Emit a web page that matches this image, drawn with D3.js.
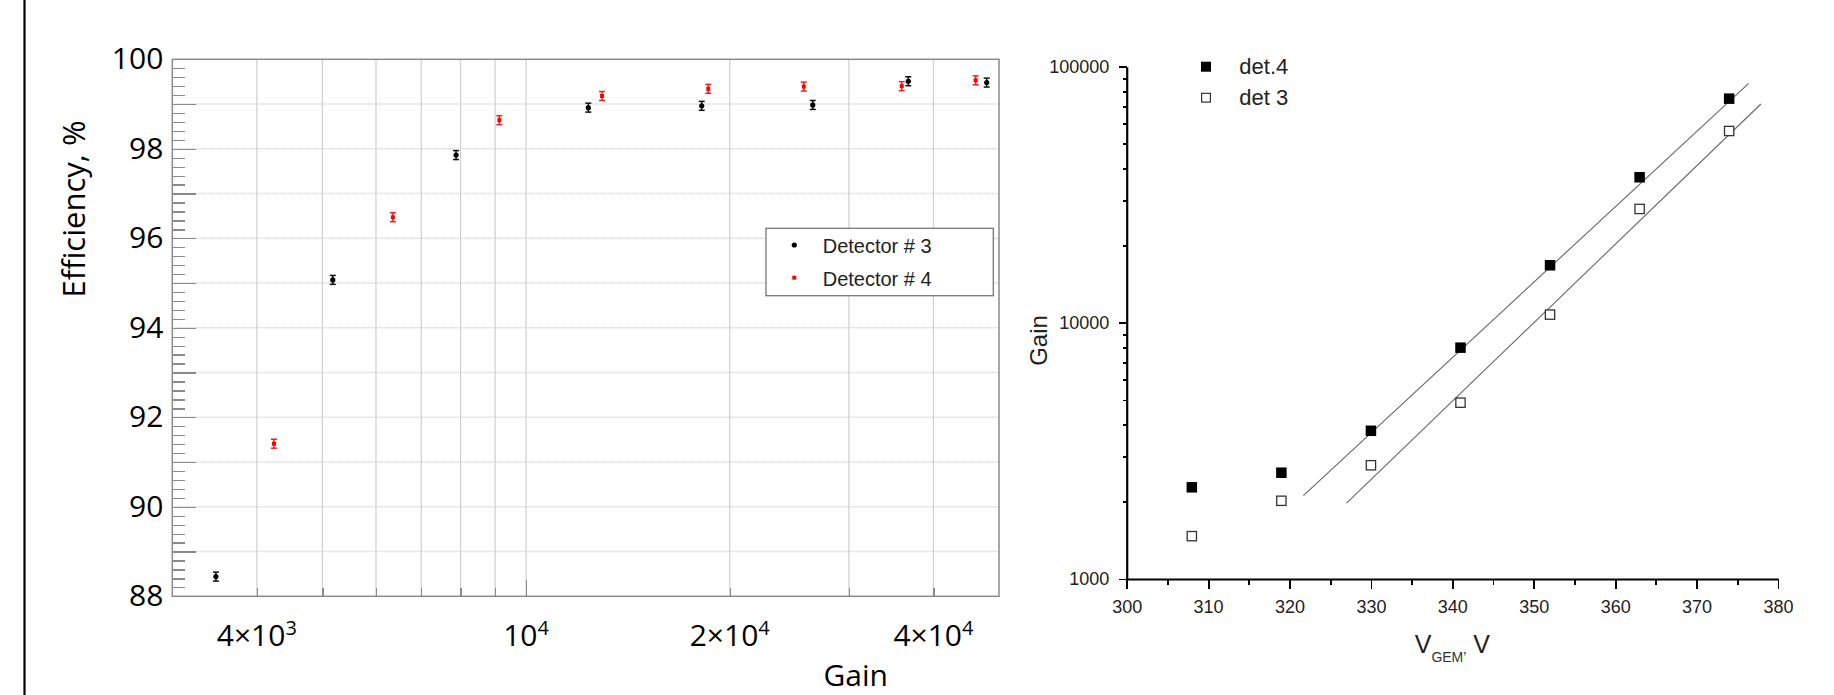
<!DOCTYPE html>
<html lang="en">
<head>
<meta charset="UTF-8">
<title>Detector efficiency and gain</title>
<script src="https://cdn.jsdelivr.net/npm/d3@7"></script>
<style>
  body { margin: 0; background: #fff; }
  svg { display: block; }
  .tick line { shape-rendering: crispEdges; }
</style>
</head>
<body>
<div id="chart"></div>
<script>
// ---- left panel: efficiency vs gain (log x) ----
const det3Gain = [3480, 5180, 7880, 12360, 18180, 26530, 36720, 47950];
const det3Eff  = [88.44, 95.07, 97.86, 98.92, 98.96, 98.98, 99.51, 99.48];
const det3Err  = [0.1, 0.1, 0.1, 0.1, 0.1, 0.1, 0.1, 0.1];
const det4Gain = [4240, 6355, 9130, 12950, 18590, 25730, 35910, 46180];
const det4Eff  = [91.41, 96.47, 98.64, 99.18, 99.34, 99.39, 99.40, 99.53];
const det4Err  = [0.1, 0.1, 0.1, 0.1, 0.1, 0.1, 0.1, 0.1];

const effLabels   = [88, 90, 92, 94, 96, 98, 100];
const gainGrid    = [4000, 5000, 6000, 7000, 8000, 9000, 10000, 20000, 30000, 40000];
const gainLabVals = [4000, 10000, 20000, 40000];
const gainLabMant = ['4×10', '10', '2×10', '4×10'];
const gainLabExp  = ['3', '4', '4', '4'];
const legendLeft  = ['Detector # 3', 'Detector # 4'];

// ---- right panel: gain vs V_GEM (log y) ----
const vgem     = [308, 319, 330, 341, 352, 363, 374];
const gainDet4 = [2280, 2600, 3790, 8000, 16780, 37010, 75030];
const gainDet3 = [1470, 2020, 2780, 4880, 10770, 27840, 56110];
const fitDet4V = [321.7, 376.4];
const fitDet4G = [2116, 86130];
const fitDet3V = [327.0, 377.9];
const fitDet3G = [1977, 71510];
const vgemTicks = [300, 310, 320, 330, 340, 350, 360, 370, 380];
const gainTicks = [1000, 10000, 100000];
const legendRight = ['det.4', 'det 3'];

const W = 1834, H = 695;
const svg = d3.select('#chart').append('svg')
    .attr('width', W)
    .attr('height', H);

svg.append('rect').attr('width', W).attr('height', H).attr('fill', '#fff');

// black border line on the far left
svg.append('line')
    .attr('x1', 24.5).attr('x2', 24.5)
    .attr('y1', 0).attr('y2', H)
    .attr('stroke', '#000')
    .attr('stroke-width', 2.2);

// ================= LEFT =================
const xL = d3.scaleLog().domain([3000, 50000]).range([172.3, 999]);
const yL = d3.scaleLinear().domain([88, 100]).range([596.3, 59.3]);
const left = svg.append('g');
const gridCol = '#cfcfcf';

// vertical grid
left.selectAll('.vgrid')
    .data(gainGrid)
    .enter()
    .append('line')
    .attr('x1', d => xL(d)).attr('x2', d => xL(d))
    .attr('y1', yL(88)).attr('y2', yL(100))
    .attr('stroke', gridCol)
    .attr('stroke-width', 1.2);

// horizontal dotted grid
left.selectAll('.hgrid')
    .data(d3.range(89, 100))
    .enter()
    .append('line')
    .attr('x1', xL(3000)).attr('x2', xL(50000))
    .attr('y1', d => yL(d)).attr('y2', d => yL(d))
    .attr('stroke', gridCol)
    .attr('stroke-width', 1.4)
    .attr('stroke-dasharray', '1,1');

// y ticks (inside)
const yMinor = left.append('g')
    .attr('transform', `translate(${xL(3000)},0)`)
    .call(d3.axisLeft(yL).tickValues(d3.range(88, 100.01, 0.2)).tickSize(-12.5).tickFormat(''));
const yMajor = left.append('g')
    .attr('transform', `translate(${xL(3000)},0)`)
    .call(d3.axisLeft(yL).tickValues(d3.range(88, 101, 1)).tickSize(-24).tickPadding(9)
        .tickFormat(d => effLabels.includes(d) ? d : ''));
[yMinor, yMajor].forEach(g => {
    g.select('.domain').remove();
    g.selectAll('.tick line').attr('stroke', '#8a8a8a').attr('stroke-width', 1.3);
});
yMajor.selectAll('text')
    .attr('fill', '#000')
    .style('font-family', '"Open Sans", sans-serif')
    .style('font-size', '30px');

// x ticks (inside, pointing up)
const xTicks = left.append('g')
    .attr('transform', `translate(0,${yL(88)})`)
    .call(d3.axisBottom(xL).tickValues(gainGrid).tickSize(-8).tickFormat(''));
xTicks.select('.domain').remove();
xTicks.selectAll('.tick line')
    .attr('stroke', '#8a8a8a').attr('stroke-width', 1.3)
    .attr('y2', d => d === 10000 ? -16 : -8);

// frame
left.append('rect')
    .attr('x', xL(3000)).attr('y', yL(100))
    .attr('width', xL(50000) - xL(3000))
    .attr('height', yL(88) - yL(100))
    .attr('fill', 'none')
    .attr('stroke', '#8a8a8a')
    .attr('stroke-width', 1.5);

// x labels with superscripts
const xLab = left.selectAll('.xlab')
    .data(gainLabVals)
    .enter()
    .append('text')
    .attr('x', d => xL(d))
    .attr('y', 646)
    .attr('text-anchor', 'middle')
    .style('font-family', '"Open Sans", sans-serif')
    .style('font-size', '30px')
    .attr('fill', '#000');
xLab.append('tspan').text((d, i) => gainLabMant[i]);
xLab.append('tspan')
    .attr('dy', -11)
    .style('font-size', '20px')
    .text((d, i) => gainLabExp[i]);

// axis titles
left.append('text')
    .text('Efficiency, %')
    .attr('transform', 'translate(85,209) rotate(-90)')
    .attr('text-anchor', 'middle')
    .style('font-family', '"Open Sans", sans-serif')
    .style('font-size', '31px')
    .attr('fill', '#000');
left.append('text')
    .text('Gain')
    .attr('x', 888).attr('y', 686)
    .attr('text-anchor', 'end')
    .style('font-family', '"Open Sans", sans-serif')
    .style('font-size', '30px')
    .attr('fill', '#000');

// data with error bars
function errBars(g, gains, effs, errs, col) {
    const grp = g.append('g');
    gains.forEach((gv, i) => {
        const x = xL(gv), y1 = yL(effs[i] - errs[i]), y2 = yL(effs[i] + errs[i]);
        grp.append('line').attr('x1', x).attr('x2', x).attr('y1', y1).attr('y2', y2)
            .attr('stroke', col).attr('stroke-width', 1.5);
        [y1, y2].forEach(y => grp.append('line')
            .attr('x1', x - 3).attr('x2', x + 3).attr('y1', y).attr('y2', y)
            .attr('stroke', col).attr('stroke-width', 1.5));
    });
}
errBars(left, det3Gain, det3Eff, det3Err, '#111');
errBars(left, det4Gain, det4Eff, det4Err, '#ff1a1a');

left.selectAll('.d3pt')
    .data(det3Gain)
    .enter()
    .append('circle')
    .attr('cx', d => xL(d))
    .attr('cy', (d, i) => yL(det3Eff[i]))
    .attr('r', 2.6)
    .attr('fill', '#000');
left.selectAll('.d4pt')
    .data(det4Gain)
    .enter()
    .append('rect')
    .attr('x', d => xL(d) - 2)
    .attr('y', (d, i) => yL(det4Eff[i]) - 2)
    .attr('width', 4).attr('height', 4)
    .attr('fill', '#ff0000');

// legend
const legL = left.append('g').attr('transform', 'translate(766,228.3)');
legL.append('rect')
    .attr('width', 227.3).attr('height', 67.4)
    .attr('fill', '#fff')
    .attr('stroke', '#777')
    .attr('stroke-width', 1.3);
legL.append('circle').attr('cx', 28.3).attr('cy', 16.7).attr('r', 2.6).attr('fill', '#000');
legL.append('rect').attr('x', 26.3).attr('y', 47.4).attr('width', 4).attr('height', 4).attr('fill', '#ff0000');
legL.selectAll('.lt')
    .data(legendLeft)
    .enter()
    .append('text')
    .attr('x', 56.7)
    .attr('y', (d, i) => 25 + i * 32.7)
    .text(d => d)
    .style('font-family', '"Liberation Sans", Arial, sans-serif')
    .style('font-size', '20px')
    .attr('fill', '#222');

// ================= RIGHT =================
const xR = d3.scaleLinear().domain([300, 380]).range([1126.7, 1778]);
const yR = d3.scaleLog().domain([1000, 100000]).range([579, 66.7]);
const right = svg.append('g');
const fontR = '"Liberation Sans", Arial, sans-serif';

// minor ticks
const xMin = right.append('g')
    .attr('transform', `translate(0,${yR(1000)})`)
    .call(d3.axisBottom(xR).tickValues(d3.range(305, 380, 10)).tickSize(6).tickFormat(''));
const yMinorVals = [];
[1000, 10000].forEach(dec => d3.range(2, 10).forEach(k => yMinorVals.push(k * dec)));
const yMin = right.append('g')
    .attr('transform', `translate(${xR(300)},0)`)
    .call(d3.axisLeft(yR).tickValues(yMinorVals).tickSize(4).tickFormat(''));

const xAx = right.append('g')
    .attr('transform', `translate(0,${yR(1000)})`)
    .call(d3.axisBottom(xR).tickValues(vgemTicks).tickSize(10).tickSizeOuter(0).tickPadding(11).tickFormat(d3.format('d')));
const yAx = right.append('g')
    .attr('transform', `translate(${xR(300)},0)`)
    .call(d3.axisLeft(yR).tickValues(gainTicks).tickSize(8).tickSizeOuter(0).tickPadding(9.4).tickFormat(d3.format('d')));

[xMin, yMin].forEach(g => g.select('.domain').remove());
[xMin, yMin, xAx, yAx].forEach(g => {
    g.selectAll('.tick line').attr('stroke', '#000').attr('stroke-width', 1.8);
    g.select('.domain').attr('stroke', '#000').attr('stroke-width', 2.2);
    g.selectAll('text')
        .attr('fill', '#222')
        .style('font-family', fontR)
        .style('font-size', '18px');
});

// fit lines
const lineR = d3.line().x(d => xR(d[0])).y(d => yR(d[1]));
right.append('path')
    .attr('d', lineR(d3.zip(fitDet4V, fitDet4G)))
    .attr('fill', 'none').attr('stroke', '#666').attr('stroke-width', 1.1);
right.append('path')
    .attr('d', lineR(d3.zip(fitDet3V, fitDet3G)))
    .attr('fill', 'none').attr('stroke', '#666').attr('stroke-width', 1.1);

// points
const sq = 10.5;
right.selectAll('.p4')
    .data(vgem)
    .enter()
    .append('rect')
    .attr('x', d => xR(d) - sq / 2)
    .attr('y', (d, i) => yR(gainDet4[i]) - sq / 2)
    .attr('width', sq).attr('height', sq)
    .attr('fill', '#000');
right.selectAll('.p3')
    .data(vgem)
    .enter()
    .append('rect')
    .attr('x', d => xR(d) - sq / 2 + 0.6)
    .attr('y', (d, i) => yR(gainDet3[i]) - sq / 2 + 0.6)
    .attr('width', sq - 1.2).attr('height', sq - 1.2)
    .attr('fill', '#fff')
    .attr('stroke', '#333')
    .attr('stroke-width', 1.3);

// legend
const legR = right.append('g').attr('transform', 'translate(1206,66.7)');
legR.append('rect').attr('x', -5).attr('y', -5).attr('width', 10).attr('height', 10).attr('fill', '#000');
legR.append('rect').attr('x', -4.4).attr('y', 26.6).attr('width', 8.8).attr('height', 8.8)
    .attr('fill', '#fff').attr('stroke', '#333').attr('stroke-width', 1.2);
legR.selectAll('.lr')
    .data(legendRight)
    .enter()
    .append('text')
    .attr('x', 33.3)
    .attr('y', (d, i) => 7.3 + i * 31)
    .text(d => d)
    .style('font-family', fontR)
    .style('font-size', '22px')
    .attr('fill', '#222');

// axis titles
right.append('text')
    .text('Gain')
    .attr('transform', 'translate(1046.7,340.5) rotate(-90)')
    .attr('text-anchor', 'middle')
    .style('font-family', fontR)
    .style('font-size', '24px')
    .attr('fill', '#222');
const vt = right.append('text')
    .attr('x', xR(340))
    .attr('y', 653)
    .attr('text-anchor', 'middle')
    .style('font-family', fontR)
    .style('font-size', '25px')
    .attr('fill', '#222');
vt.append('tspan').text('V');
vt.append('tspan').attr('dy', 9).style('font-size', '14px').attr('fill', '#333').text('GEM\u2019');
vt.append('tspan').attr('dy', -9).text(' V');
</script>
</body>
</html>
